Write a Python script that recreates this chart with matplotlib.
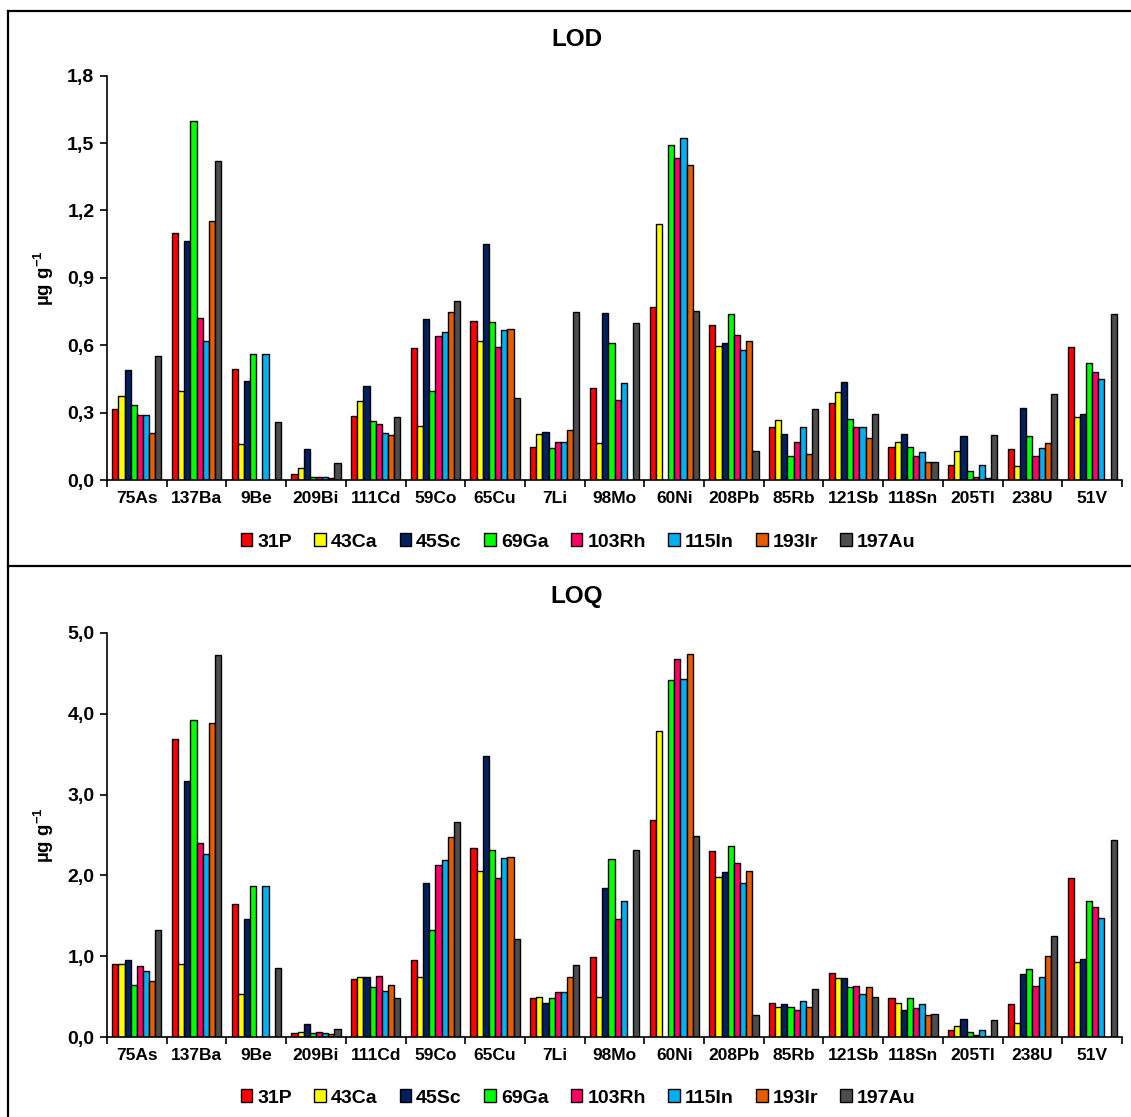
import numpy as np
import matplotlib.pyplot as plt
from matplotlib.lines import Line2D
from matplotlib.patches import Patch
from matplotlib.ticker import FuncFormatter, FixedLocator

plt.rcParams['font.family'] = ['Liberation Sans', 'DejaVu Sans']
plt.rcParams['font.weight'] = 'bold'
plt.rcParams['mathtext.fontset'] = 'custom'
plt.rcParams['mathtext.rm'] = 'Liberation Sans:bold'
plt.rcParams['mathtext.bf'] = 'Liberation Sans:bold'
plt.rcParams['mathtext.default'] = 'bf'

# ---------------- data ----------------
elements = ["75As", "137Ba", "9Be", "209Bi", "111Cd", "59Co", "65Cu", "7Li", "98Mo",
            "60Ni", "208Pb", "85Rb", "121Sb", "118Sn", "205Tl", "238U", "51V"]
standards = ["31P", "43Ca", "45Sc", "69Ga", "103Rh", "115In", "193Ir", "197Au"]
colors = ["#FF0000", "#FFFF00", "#002060", "#00FF00", "#FF0066", "#00B0F0", "#E65C00", "#4D4D4D"]

nan = np.nan
# LOD, one list per internal standard (order of elements)
lod_31P = [0.315, 1.10, 0.496, 0.027, 0.285, 0.587, 0.710, 0.148, 0.408, 0.768, 0.690, 0.236, 0.342, 0.148, 0.067, 0.138, 0.591]
lod_43Ca = [0.374, 0.395, 0.160, 0.052, 0.350, 0.242, 0.619, 0.205, 0.163, 1.140, 0.598, 0.269, 0.393, 0.168, 0.131, 0.062, 0.279]
lod_45Sc = [0.490, 1.063, 0.441, 0.137, 0.419, 0.717, 1.051, 0.212, 0.742, nan, 0.612, 0.205, 0.438, 0.205, 0.197, 0.322, 0.293]
lod_69Ga = [0.335, 1.598, 0.560, 0.012, 0.261, 0.398, 0.702, 0.144, 0.612, 1.491, 0.740, 0.108, 0.272, 0.146, 0.040, 0.197, 0.520]
lod_103Rh = [0.288, 0.720, nan, 0.012, 0.250, 0.641, 0.591, 0.168, 0.355, 1.433, 0.646, 0.168, 0.236, 0.108, 0.012, 0.108, 0.483]
lod_115In = [0.288, 0.618, 0.560, 0.012, 0.211, 0.661, 0.668, 0.168, 0.434, 1.521, 0.579, 0.236, 0.236, 0.123, 0.067, 0.141, 0.449]
lod_193Ir = [0.208, 1.152, nan, 0.008, 0.199, 0.748, 0.674, 0.224, nan, 1.402, 0.619, 0.114, 0.186, 0.082, 0.008, 0.163, nan]
lod_197Au = [0.552, 1.420, 0.257, 0.077, 0.282, 0.799, 0.367, 0.747, 0.698, 0.751, 0.128, 0.315, 0.293, 0.079, 0.200, 0.382, 0.737]

# LOQ
loq_31P = [0.91, 3.69, 1.65, 0.05, 0.72, 0.95, 2.34, 0.49, 0.99, 2.69, 2.30, 0.42, 0.79, 0.48, 0.09, 0.41, 1.97]
loq_43Ca = [0.91, 0.91, 0.53, 0.07, 0.75, 0.74, 2.05, 0.50, 0.50, 3.78, 1.98, 0.37, 0.73, 0.42, 0.14, 0.18, 0.93]
loq_45Sc = [0.96, 3.17, 1.46, 0.17, 0.74, 1.91, 3.48, 0.43, 1.85, nan, 2.04, 0.41, 0.73, 0.34, 0.22, 0.78, 0.97]
loq_69Ga = [0.65, 3.92, 1.87, 0.05, 0.62, 1.33, 2.32, 0.49, 2.20, 4.41, 2.37, 0.38, 0.62, 0.48, 0.06, 0.85, 1.68]
loq_103Rh = [0.88, 2.40, nan, 0.06, 0.76, 2.13, 1.97, 0.56, 1.46, 4.67, 2.15, 0.34, 0.64, 0.36, 0.03, 0.64, 1.61]
loq_115In = [0.82, 2.26, 1.87, 0.05, 0.57, 2.19, 2.22, 0.56, 1.69, 4.43, 1.91, 0.45, 0.53, 0.41, 0.09, 0.74, 1.48]
loq_193Ir = [0.70, 3.88, nan, 0.04, 0.65, 2.48, 2.23, 0.75, nan, 4.74, 2.05, 0.38, 0.62, 0.28, 0.02, 1.00, nan]
loq_197Au = [1.33, 4.72, 0.86, 0.10, 0.48, 2.66, 1.21, 0.89, 2.32, 2.49, 0.28, 0.60, 0.50, 0.29, 0.21, 1.25, 2.44]

lod = [lod_31P, lod_43Ca, lod_45Sc, lod_69Ga, lod_103Rh, lod_115In, lod_193Ir, lod_197Au]
loq = [loq_31P, loq_43Ca, loq_45Sc, loq_69Ga, loq_103Rh, loq_115In, loq_193Ir, loq_197Au]

W, H = 1131, 1117
fig = plt.figure(figsize=(W / 100, H / 100), dpi=100)


def px_rect(left, top, right, bottom):
    return [left / W, 1 - bottom / H, (right - left) / W, (bottom - top) / H]


def draw_panel(ax, series, title, ymax, step, title_y, legend_y):
    n = len(elements)
    x = np.arange(n)
    bw = 0.103
    for i, vals in enumerate(series):
        off = (i - 3.5) * bw
        ax.bar(x + off, vals, width=bw, color=colors[i], edgecolor="black",
               linewidth=1.0, label=standards[i], zorder=2)
    ax.set_xlim(-0.5, n - 0.5)
    ax.set_ylim(0, ymax)
    ax.set_yticks(np.arange(0, ymax + step / 2, step))
    ax.yaxis.set_major_formatter(FuncFormatter(lambda v, p: f"{v:.1f}".replace(".", ",")))
    ax.set_xticks(x)
    ax.set_xticklabels(elements, fontsize=12.5, fontweight="bold")
    ax.xaxis.set_minor_locator(FixedLocator(np.arange(-0.5, n, 1.0)))
    ax.tick_params(axis="x", which="major", length=0, pad=8)
    ax.tick_params(axis="x", which="minor", length=5, width=1.2, direction="out")
    ax.tick_params(axis="y", length=5, width=1.2, labelsize=14, pad=4)
    for lab in ax.get_yticklabels():
        lab.set_fontweight("bold")
    for s in ["top", "right"]:
        ax.spines[s].set_visible(False)
    for s in ["left", "bottom"]:
        ax.spines[s].set_linewidth(1.2)
    ax.set_ylabel("µg g$^{-1}$", fontsize=13.5, fontweight="bold", labelpad=8)
    fig.text(577 / W, 1 - title_y / H, title, ha="center", va="center",
             fontsize=17.5, fontweight="bold")
    handles = [Patch(facecolor=c, edgecolor="black", linewidth=1.0) for c in colors]
    fig.legend(handles, standards, loc="center", bbox_to_anchor=(578 / W, 1 - legend_y / H),
               ncol=8, frameon=False, handlelength=0.6, handleheight=0.6,
               handletextpad=0.25, columnspacing=1.15,
               prop={"weight": "bold", "size": 14})


ax1 = fig.add_axes(px_rect(107, 75.7, 1122, 480))
draw_panel(ax1, lod, "LOD", 1.8, 0.3, 40, 542)

ax2 = fig.add_axes(px_rect(107, 632.7, 1122, 1037.3))
draw_panel(ax2, loq, "LOQ", 5.0, 1.0, 597, 1098)

# panel frame lines
for xs, ys in [([8, 8], [11, H]), ([8, W], [11, 11]), ([8, W], [566, 566])]:
    fig.add_artist(Line2D([v / W for v in xs], [1 - v / H for v in ys],
                          transform=fig.transFigure, color="black", linewidth=1.6))

fig.savefig("out.png", dpi=100, facecolor="white")
